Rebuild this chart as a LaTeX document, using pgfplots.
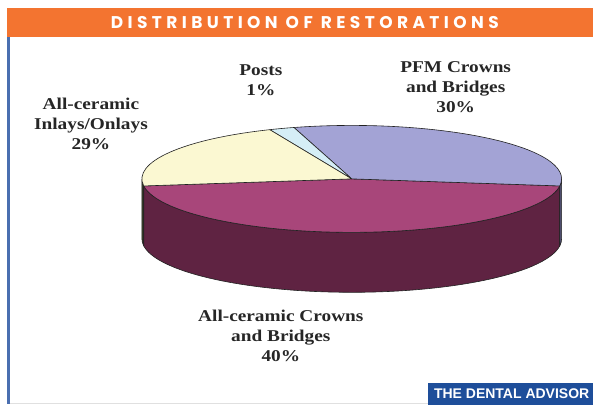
\documentclass[border=0pt]{standalone}
\usepackage{pgfplots}
\pgfplotsset{compat=1.18}
\usepackage{fontspec}
\setmainfont{Liberation Serif}[FakeStretch=1.17]
\newfontfamily\titlefont{Poppins}[LetterSpace=26]
\newfontfamily\brandfont{Liberation Sans}
\definecolor{barorange}{HTML}{F37430}
\definecolor{framelue}{HTML}{4A6FB0}
\definecolor{brandblue}{HTML}{1E4E9A}
\definecolor{pfm}{HTML}{A3A3D5}
\definecolor{pfmside}{HTML}{55557A}
\definecolor{acc}{HTML}{A8467A}
\definecolor{accside}{HTML}{5F2342}
\definecolor{inl}{HTML}{FBF8D2}
\definecolor{inlside}{HTML}{3A3F2A}
\definecolor{posts}{HTML}{D5EEF6}
\definecolor{edge}{HTML}{222222}
\definecolor{labelc}{HTML}{262626}
% slice data: start angle, end angle (as drawn in the tilted view), share in %
% All-ceramic Crowns and Bridges 40 ; PFM Crowns and Bridges 30 ; Posts 1 ; All-ceramic Inlays/Onlays 29
\newcommand\topslice[3]{\filldraw[fill=#3,draw=edge,line width=0.6pt,line join=round] (axis cs:352,226) -- ++(#1:210pt and 53.5pt) arc[start angle=#1,end angle=#2,x radius=210pt,y radius=53.5pt] -- cycle;}
\newcommand\sideslice[3]{\filldraw[fill=#3,draw=edge,line width=0.6pt,line join=round] (axis cs:352,226) ++(#1:210pt and 53.5pt) arc[start angle=#1,end angle=#2,x radius=210pt,y radius=53.5pt] -- ++(0,-60pt) arc[start angle=#2,end angle=#1,x radius=210pt,y radius=53.5pt] -- cycle;}
\begin{document}
\begin{tikzpicture}
\begin{axis}[width=593pt,height=405pt,scale only axis,xmin=0,xmax=593,ymin=0,ymax=405,hide axis,clip=false]
\addplot[draw=none,forget plot] coordinates {(0,0) (593,405)};
\fill[white] (axis cs:0,0) rectangle (axis cs:593,405);
% frame
\fill[barorange] (axis cs:7,368) rectangle (axis cs:593,397);
\fill[framelue] (axis cs:7.5,1) rectangle (axis cs:10,368);
\draw[black!12,line width=0.8pt] (axis cs:10,1.5) -- (axis cs:593,1.5);
\node[text=white,font=\titlefont\bfseries\fontsize{17}{20}\selectfont] at (axis cs:305,382.5) {DISTRIBUTION OF RESTORATIONS};
\fill[brandblue] (axis cs:428,0) rectangle (axis cs:593,22);
\node[text=white,font=\brandfont\bfseries\fontsize{14}{15}\selectfont] at (axis cs:512,11) {THE DENTAL ADVISOR};
% pie sides
\sideslice{180}{187.6}{inlside}
\sideslice{187.6}{352.4}{accside}
\sideslice{352.4}{360}{pfmside}
% pie top
\topslice{187.6}{352.4}{acc}
\topslice{-7.6}{106}{pfm}
\topslice{106}{113}{posts}
\topslice{113}{187.6}{inl}
% labels
\begin{scope}[every node/.style={align=center,text=labelc,font=\bfseries\fontsize{16.5}{20}\selectfont}]
\node at (axis cs:261,325) {Posts\\1\%};
\node at (axis cs:456,317.5) {PFM Crowns\\and Bridges\\30\%};
\node at (axis cs:91,281.5) {All-ceramic\\Inlays/Onlays\\29\%};
\node at (axis cs:281,69) {All-ceramic Crowns\\and Bridges\\40\%};
\end{scope}
\end{axis}
\end{tikzpicture}
\end{document}
